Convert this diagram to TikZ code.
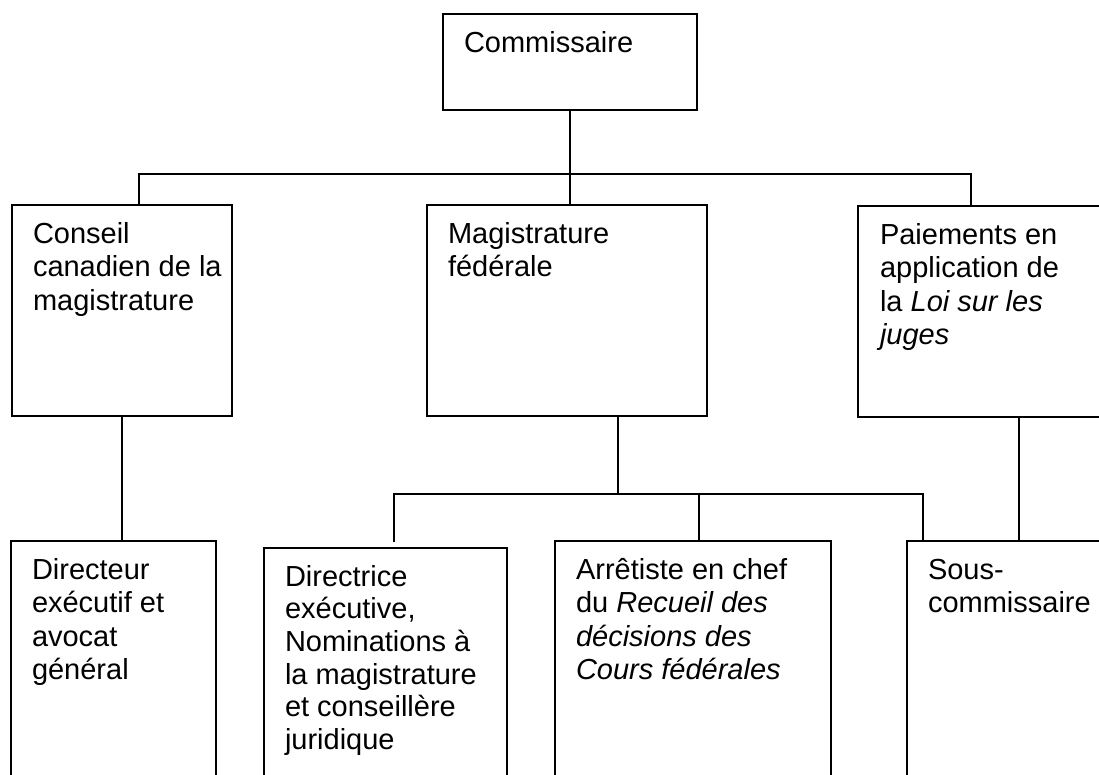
\documentclass[tikz,border=0pt]{standalone}
\usepackage{fontspec}
\setmainfont{Liberation Sans}
\begin{document}
\begin{tikzpicture}[x=1pt,y=-1pt,
  orgbox/.style={draw=black,line width=1.7pt,inner sep=0pt,outer sep=0pt,anchor=north west},
  orglbl/.style={anchor=north west,inner sep=0pt,outer sep=0pt,align=left,
    font=\fontsize{29}{33.3}\selectfont},
  conn/.style={draw=black,line width=1.7pt}]
\clip (0,0) rectangle (1099,774);
\fill[white] (0,0) rectangle (1099,774);
% boxes
\node[orgbox,minimum width=254pt,minimum height=96pt] (comm) at (443,14) {};
\node[orgbox,minimum width=220pt,minimum height=211pt] (cons) at (12,205) {};
\node[orgbox,minimum width=280pt,minimum height=211pt] (mag) at (427,205) {};
\node[orgbox,minimum width=300pt,minimum height=211pt] (paie) at (858,206) {};
\node[orgbox,minimum width=205pt,minimum height=300pt] (dir) at (11,541) {};
\node[orgbox,minimum width=243pt,minimum height=300pt] (dtrice) at (264,548) {};
\node[orgbox,minimum width=276pt,minimum height=300pt] (arr) at (555,541) {};
\node[orgbox,minimum width=250pt,minimum height=300pt] (sous) at (907,541) {};
% labels
\node[orglbl] (tcomm) at ([shift={(21,15.2)}]comm.north west) {\strut Commissaire};
\node[orglbl] (tcons) at ([shift={(21,15.2)}]cons.north west) {\strut Conseil\\canadien de la\\magistrature};
\node[orglbl] (tmag) at ([shift={(21,15.2)}]mag.north west) {\strut Magistrature\\fédérale};
\node[orglbl] (tpaie) at ([shift={(22,15.2)}]paie.north west) {\strut Paiements en\\application de\\la \textit{Loi sur les}\\\textit{juges}};
\node[orglbl] (tdir) at ([shift={(21,15.2)}]dir.north west) {\strut Directeur\\exécutif et\\avocat\\général};
\node[orglbl,font=\fontsize{29}{32.6}\selectfont] (tdtrice) at ([shift={(21,15.5)}]dtrice.north west) {\strut Directrice\\exécutive,\\Nominations à\\la magistrature\\et conseillère\\juridique};
\node[orglbl] (tarr) at ([shift={(21,15.2)}]arr.north west) {\strut Arrêtiste en chef\\du \textit{Recueil des}\\\textit{décisions des}\\\textit{Cours fédérales}};
\node[orglbl] (tsous) at ([shift={(21,15.2)}]sous.north west) {\strut Sous-\\commissaire};
% connector points
\coordinate (b1L) at (139,174);
\coordinate (b1R) at (971,174);
\coordinate (b2M) at (618,494);
\coordinate (b2L) at (394,494);
\coordinate (b2A) at (699,494);
\coordinate (b2R) at (923,494);
\coordinate (dtend) at (394,542);
\coordinate (p2) at (1019,417);
% connectors
\draw[conn] (comm.south) -- (comm.south |- mag.north);
\draw[conn] (cons.north -| b1L) -- (b1L) -- (b1R) -- (paie.north -| b1R);
\draw[conn] (cons.south) -- (cons.south |- dir.north);
\draw[conn] (mag.south -| b2M) -- (b2M);
\draw[conn] (dtend) -- (b2L) -- (b2R) -- (b2R |- sous.north);
\draw[conn] (b2A) -- (b2A |- arr.north);
\draw[conn] (paie.south -| p2) -- (p2 |- sous.north);
\end{tikzpicture}
\end{document}
